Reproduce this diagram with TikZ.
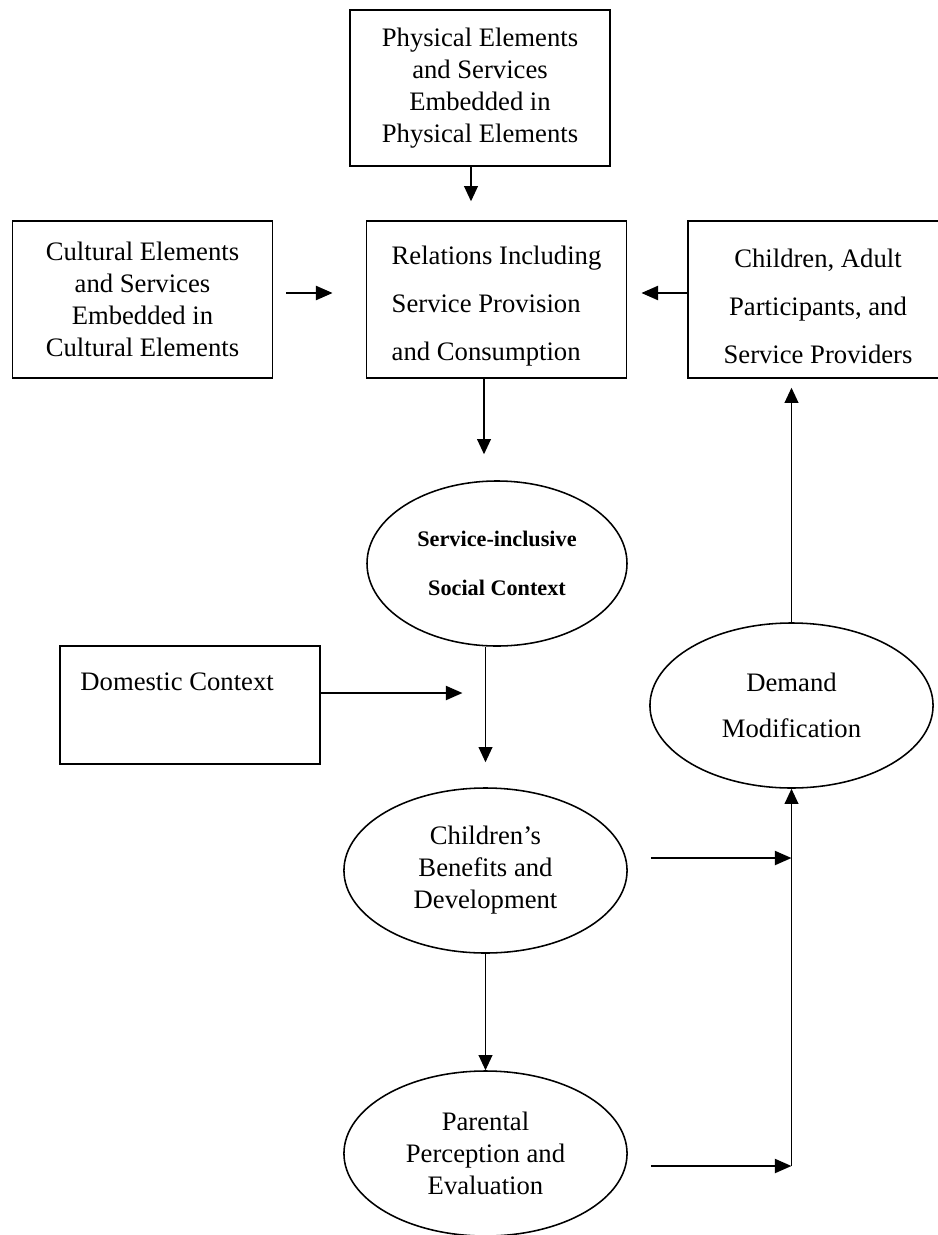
\documentclass[tikz,border=0pt]{standalone}
\usepackage{fontspec}
\setmainfont{Liberation Serif}
\usetikzlibrary{arrows.meta,shapes.geometric,calc}

\begin{document}
\begin{tikzpicture}[x=0.45pt,y=0.45pt,yscale=-1,xscale=1,
  box/.style={draw, line width=0.8pt, minimum width=117pt, minimum height=70.6pt, inner sep=0pt, align=center, font=\fontsize{12}{14.4}\selectfont},
  oval/.style={draw, ellipse, line width=0.7pt, minimum width=127.4pt, minimum height=74.25pt, inner sep=0pt, align=center, font=\fontsize{12}{14.4}\selectfont},
  arr/.style={line width=0.6pt, -{Triangle[length=6.8pt,width=6.2pt]}},
  bigarr/.style={line width=1pt, -{Triangle[length=7.5pt,width=6.3pt]}}]
\useasboundingbox (0,0) rectangle (938,1235);

%Shape: Rectangle
\node [box, minimum height=70.2pt] (phys) at (480,88) {Physical Elements\\and Services\\Embedded in\\Physical Elements};
%Shape: Rectangle
\node [box] (cult) at (142.5,299.5) {Cultural Elements\\and Services\\Embedded in\\Cultural Elements};
%Shape: Rectangle
\node [box, align=left, font=\fontsize{12}{21.6}\selectfont] (rel) at (496.5,299.5) {\rule{0pt}{14.5pt}Relations Including\\Service Provision\\and Consumption};
%Shape: Rectangle
\node [box, font=\fontsize{12}{21.6}\selectfont] (kids) at (818,299.5) {\rule{0pt}{14.5pt}Children, Adult\\Participants, and\\Service Providers};
%Shape: Ellipse
\node [oval, minimum width=117pt, font=\fontsize{10}{22}\selectfont\bfseries] (social) at (497,563.5) {Service-inclusive\\Social Context};
%Shape: Rectangle
\node [box, minimum height=53.1pt] (dom) at (190,705) {};
% Text Node
\node [anchor=west, inner sep=0pt, font=\fontsize{12}{14.4}\selectfont] (domtxt) at (80,682) {Domestic Context};
%Shape: Ellipse
\node [oval, font=\fontsize{12}{21}\selectfont] (demand) at (791.5,705.5) {Demand\\Modification};
%Shape: Ellipse
\node [oval] (bene) at (485.5,870.5) {Children's\\Benefits and\\Development};
%Shape: Ellipse
\node [oval] (parent) at (485.5,1153.5) {Parental\\Perception and\\Evaluation};

%Straight Lines
\coordinate (pa) at ($(phys.south)+(-9,0)$);
\draw [arr, shorten >=8.5pt] (pa) -- (pa |- rel.north);
%Straight Lines
\coordinate (ca) at ($(cult.east)+(0,-6.5)$);
\draw [bigarr, shorten <=5.85pt, shorten >=14.85pt] (ca) -- (ca -| rel.west);
%Straight Lines
\coordinate (ka) at ($(kids.west)+(0,-6.5)$);
\draw [bigarr, shorten >=6.3pt] (ka) -- (ka -| rel.east);
%Straight Lines
\coordinate (ra) at ($(rel.south)+(-12.5,0)$);
\draw [arr, shorten >=11.7pt] (ra) -- (ra |- social.north);
%Straight Lines
\draw [arr, shorten >=11.25pt] (bene.north |- social.south) -- (bene.north);
%Straight Lines
\coordinate (da) at ($(dom.east)+(0,-12)$);
\draw [bigarr, shorten >=10.35pt] (da) -- (da -| bene.north);
%Straight Lines
\draw [arr] (bene) -- (parent);
%Straight Lines
\coordinate (ba) at ($(bene.east)+(0,-12.5)$);
\draw [bigarr, shorten <=10.35pt] (ba) -- (ba -| demand.south);
%Straight Lines
\coordinate (pe) at ($(parent.east)+(0,12.5)$);
\draw [bigarr, shorten <=10.35pt] (pe) -- (pe -| demand.south);
%Straight Lines
\draw [arr] (pe -| demand.south) -- (demand.south);
%Straight Lines
\draw [arr, shorten >=4pt] (demand.north) -- (demand.north |- kids.south);

\end{tikzpicture}
\end{document}
